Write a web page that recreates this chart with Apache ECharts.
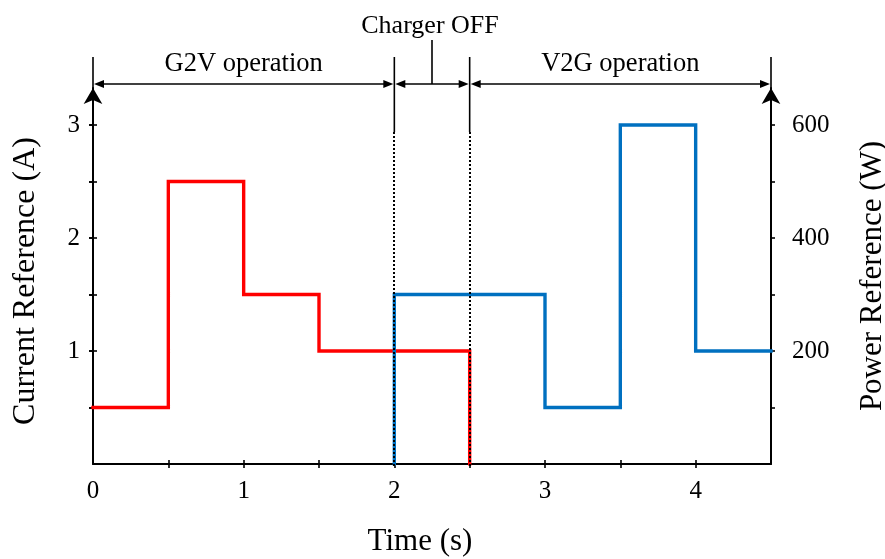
<!DOCTYPE html>
<html>
<head>
<meta charset="utf-8">
<script src="https://cdn.jsdelivr.net/npm/echarts@6/dist/echarts.min.js"></script>
<style>
  html, body { margin: 0; padding: 0; background: #fff; }
  #chart { width: 885px; height: 559px; }
</style>
</head>
<body>
<div id="chart"></div>
<script>
// Current reference (A) during G2V charging: value held until the next time
const currentTimes = [0, 0.5, 1, 1.5, 2.5];
const currentValues = [0.5, 2.5, 1.5, 1.0, 0];

// Power reference (W) during V2G discharging: value held until the next time
const powerTimes = [2, 2, 3, 3.5, 4, 4.5];
const powerValues = [0, 300, 100, 600, 200, 200];

// Axis ticks and labels
const timeTicks = [0.5, 1, 1.5, 2, 2.5, 3, 3.5, 4];
const timeTickLabels = [0, 1, 2, 3, 4];
const currentTicks = [0.5, 1, 1.5, 2, 2.5, 3];
const currentTickLabels = [1, 2, 3];
const powerTicks = [100, 200, 300, 400, 500, 600];
const powerTickLabels = [200, 400, 600];

// Operating phases along the time axis
const phaseBounds = [0, 2, 2.5, 4.5];
const phaseNames = ['G2V operation', '', 'V2G operation'];
const offLabel = 'Charger OFF';

const FONT = "'Liberation Serif', 'Times New Roman', serif";
const CURRENT_MAX = 3.327;
const POWER_PER_AMP = 200;

const chart = echarts.init(document.getElementById('chart'), null, { renderer: 'canvas' });

const pairs = (xs, ys) => xs.map((x, i) => [x, ys[i]]);

function valueAxisBase(extra) {
  return Object.assign({
    type: 'value',
    splitLine: { show: false },
    axisLine: { show: false },
    axisLabel: { show: false },
    axisTick: { show: false }
  }, extra);
}

const tickStyle = { color: '#000', width: 1.6 };
const labelStyle = { color: '#000', fontFamily: FONT, fontSize: 25 };

chart.setOption({
  animation: false,
  backgroundColor: '#fff',
  grid: { left: 93, right: 114, top: 88, bottom: 95, containLabel: false, outerBoundsMode: 'none' },
  xAxis: [
    valueAxisBase({
      min: 0, max: 4.5,
      position: 'bottom',
      axisLine: { show: true, onZero: false, lineStyle: { color: '#000', width: 2 } },
      axisTick: { show: true, length: 4, customValues: timeTicks, lineStyle: tickStyle },
      axisLabel: Object.assign({ show: true, margin: 15, customValues: timeTickLabels }, labelStyle),
      name: 'Time (s)',
      nameLocation: 'middle',
      nameGap: 62,
      nameTextStyle: { color: '#000', fontFamily: FONT, fontSize: 31, padding: [0, 24, 0, 0] }
    }),
    valueAxisBase({
      min: 0, max: 4.5,
      position: 'bottom',
      axisTick: { show: true, inside: true, length: 4, customValues: timeTicks, lineStyle: tickStyle }
    })
  ],
  yAxis: [
    valueAxisBase({
      min: 0, max: CURRENT_MAX,
      position: 'left',
      axisLine: {
        show: true, onZero: false,
        symbol: ['none', 'arrow'], symbolSize: [14, 16],
        lineStyle: { color: '#000', width: 2 }
      },
      axisTick: { show: true, length: 4, customValues: currentTicks, lineStyle: tickStyle },
      axisLabel: Object.assign({ show: true, margin: 13, customValues: currentTickLabels }, labelStyle),
      name: 'Current Reference (A)',
      nameLocation: 'middle',
      nameRotate: 90,
      nameGap: 51,
      nameTextStyle: { color: '#000', fontFamily: FONT, fontSize: 32, padding: [0, 10, 0, 0] }
    }),
    valueAxisBase({
      min: 0, max: CURRENT_MAX * POWER_PER_AMP,
      position: 'right',
      axisLine: {
        show: true, onZero: false,
        symbol: ['none', 'arrow'], symbolSize: [14, 16],
        lineStyle: { color: '#000', width: 2 }
      },
      axisTick: { show: true, length: 4, customValues: powerTicks, lineStyle: tickStyle },
      axisLabel: Object.assign({ show: true, margin: 21, customValues: powerTickLabels }, labelStyle),
      name: 'Power Reference (W)',
      nameLocation: 'middle',
      nameRotate: 90,
      nameGap: 86,
      nameTextStyle: { color: '#000', fontFamily: FONT, fontSize: 31 }
    }),
    valueAxisBase({
      min: 0, max: CURRENT_MAX,
      position: 'left',
      axisTick: { show: true, inside: true, length: 4, customValues: currentTicks, lineStyle: tickStyle }
    }),
    valueAxisBase({
      min: 0, max: CURRENT_MAX * POWER_PER_AMP,
      position: 'right',
      axisTick: { show: true, inside: true, length: 4, customValues: powerTicks, lineStyle: tickStyle }
    })
  ],
  series: [
    {
      name: 'Current Reference',
      type: 'line',
      xAxisIndex: 0, yAxisIndex: 0,
      step: 'end',
      showSymbol: false, symbol: 'none',
      lineStyle: { color: '#ff0000', width: 3.4, join: 'miter', cap: 'square' },
      data: pairs(currentTimes, currentValues),
      z: 3
    },
    {
      name: 'Power Reference',
      type: 'line',
      xAxisIndex: 0, yAxisIndex: 1,
      step: 'end',
      showSymbol: false, symbol: 'none',
      lineStyle: { color: '#0070c0', width: 3.4, join: 'miter', cap: 'square' },
      data: pairs(powerTimes, powerValues),
      z: 4
    }
  ]
});

// Phase annotations above the plot: dimension arrows, boundary markers and labels
function drawPhases() {
  const px = v => chart.convertToPixel({ xAxisIndex: 0 }, v);
  const py = v => chart.convertToPixel({ yAxisIndex: 0 }, v);
  const yBase = py(0);
  const yTop = py(CURRENT_MAX);
  const yDim = yTop - 4;          // dimension line
  const yMarkTop = yTop - 31;     // top of boundary markers
  const yMarkBottom = yTop + 44;  // solid part ends, dotted part begins
  const els = [];
  const black = '#000';
  const line = (x1, y1, x2, y2, w, dash) => els.push({
    type: 'line', z: 100, silent: true,
    shape: { x1, y1, x2, y2 },
    style: { stroke: black, lineWidth: w, lineDash: dash || null }
  });
  const head = (xTip, y, dir) => els.push({
    type: 'polygon', z: 101, silent: true,
    shape: { points: [[xTip, y], [xTip - dir * 10, y - 4], [xTip - dir * 10, y + 4]] },
    style: { fill: black }
  });
  const text = (t, x, y, size) => els.push({
    type: 'text', z: 102, silent: true,
    style: { text: t, x, y, align: 'center', verticalAlign: 'middle', fill: black,
             font: size + 'px ' + FONT }
  });

  phaseBounds.forEach((b, i) => {
    const x = px(b);
    const outer = i === 0 || i === phaseBounds.length - 1;
    line(x, yMarkTop, x, outer ? yTop + 2 : yMarkBottom, 1.6);
    if (!outer) {
      const xs = Math.round(x);
      line(xs, yMarkBottom, xs, yBase + 2, 2, [2, 2]);
    }
  });

  for (let i = 0; i < phaseBounds.length - 1; i++) {
    const x1 = px(phaseBounds[i]) + 1;
    const x2 = px(phaseBounds[i + 1]) - 1;
    line(x1 + 6, yDim, x2 - 6, yDim, 1.6);
    head(x1, yDim, -1);
    head(x2, yDim, 1);
    if (phaseNames[i]) text(phaseNames[i], (x1 + x2) / 2, yDim - 20, 26.5);
  }

  // label for the idle interval, with a leader down to its dimension line
  const xOff = px((phaseBounds[1] + phaseBounds[2]) / 2);
  line(xOff, yDim - 44, xOff, yDim, 1.6);
  text(offLabel, xOff - 2, yDim - 58, 26);

  chart.setOption({ graphic: els });
}
drawPhases();
</script>
</body>
</html>
